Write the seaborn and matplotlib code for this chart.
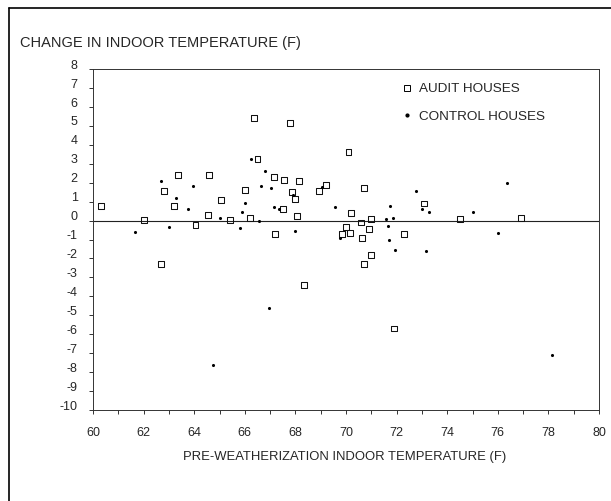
import matplotlib
matplotlib.use("Agg")
import matplotlib.pyplot as plt
import matplotlib.transforms as mtransforms
from matplotlib.lines import Line2D
import seaborn as sns
import pandas as pd

sns.set_style("white")
plt.rcParams['font.family'] = ['Liberation Sans', 'DejaVu Sans']

# audit houses (open squares)
audit_x = [60.3, 62.0, 62.8, 63.35, 63.2, 64.05, 62.7, 64.6, 64.55, 65.05, 65.4, 66.0, 66.2,
           67.15, 67.55, 68.15, 67.85, 68.0, 67.5, 68.05, 67.2, 68.35, 68.95, 69.2, 70.7,
           70.2, 69.85, 70.0, 70.15, 70.6, 71.0, 70.9, 70.65, 71.0, 70.7, 72.3, 73.1,
           74.5, 76.9, 71.9, 66.35, 67.8, 70.1, 66.5]
audit_y = [0.75, 0.05, 1.55, 2.4, 0.75, -0.25, -2.3, 2.4, 0.3, 1.1, 0.05, 1.6, 0.15,
           2.3, 2.15, 2.1, 1.5, 1.15, 0.6, 0.25, -0.7, -3.4, 1.55, 1.9, 1.7,
           0.4, -0.7, -0.35, -0.65, -0.1, 0.1, -0.45, -0.9, -1.8, -2.3, -0.7, 0.9,
           0.1, 0.15, -5.7, 5.4, 5.15, 3.6, 3.25]

# control houses (dots)
control_x = [61.65, 62.7, 63.3, 63.0, 63.75, 63.95, 65.0, 65.8, 65.9, 66.0, 66.55, 66.8,
             66.65, 67.05, 67.9, 67.15, 67.35, 68.0, 66.95, 69.05, 69.55, 69.75, 71.75,
             71.65, 71.7, 71.6, 71.85, 71.95, 72.75, 73.0, 73.3, 73.15, 75.0, 76.35, 76.0,
             64.75, 78.15, 66.25]
control_y = [-0.6, 2.1, 1.2, -0.35, 0.6, 1.8, 0.15, -0.4, 0.45, 0.95, 0.0, 2.6,
             1.8, 1.7, 1.35, 0.7, 0.6, -0.55, -4.6, 1.75, 0.7, -0.9, 0.75,
             -0.3, -1.0, 0.1, 0.15, -1.55, 1.55, 0.6, 0.45, -1.6, 0.45, 2.0, -0.65,
             -7.6, -7.1, 3.25]

x_ticks = list(range(60, 81, 2))
y_ticks = list(range(-10, 9))

audit = pd.DataFrame({'x': audit_x, 'y': audit_y})
control = pd.DataFrame({'x': control_x, 'y': control_y})

fig = plt.figure(figsize=(6.11, 5.01), dpi=100)
ax = fig.add_axes([93 / 611, 1 - 410 / 501, 506 / 611, 341 / 501])

sns.scatterplot(data=audit, x='x', y='y', ax=ax, marker='s', s=18,
                facecolor='none', edgecolor='#111111', linewidth=0.75)
sns.scatterplot(data=control, x='x', y='y', ax=ax, marker='o', s=5,
                color='black', edgecolor='black', linewidth=0)

ax.axhline(0, color='#222222', lw=0.8, zorder=0)

ax.set_xlim(60, 80)
ax.set_ylim(-10, 8)
ax.set_xticks(x_ticks)
ax.set_xticks(range(60, 81), minor=True)
ax.set_yticks(y_ticks)
ax.set_yticklabels([str(v) for v in y_ticks])
ax.tick_params(axis='both', which='both', direction='out', length=3, width=0.7,
               color='#333333', labelsize=9, bottom=True, left=True)
ax.tick_params(axis='x', pad=9)
ax.tick_params(axis='y', pad=8)
# y labels sit a little above their ticks in the original
shift = mtransforms.ScaledTranslation(0, 3.5 / 72, fig.dpi_scale_trans)
for lab in ax.get_yticklabels():
    lab.set_transform(lab.get_transform() + shift)
for sp in ax.spines.values():
    sp.set_color('#333333')
    sp.set_linewidth(0.7)
ax.set_xlabel('')
ax.set_ylabel('')

handles = [
    Line2D([], [], marker='s', ls='', mfc='none', mec='black', ms=4, mew=0.7),
    Line2D([], [], marker='o', ls='', color='black', ms=2),
]
ax.legend(handles, ['AUDIT HOUSES', 'CONTROL HOUSES'], loc='upper left',
          bbox_to_anchor=(0.585, 0.995), frameon=False, fontsize=9.7,
          handlelength=0.8, handletextpad=0.5, labelspacing=1.1)

fig.text(20 / 611, 1 - 43 / 501, 'CHANGE IN INDOOR TEMPERATURE (F)', fontsize=10.5,
         va='center', ha='left')
fig.text(345 / 611, 1 - 457 / 501, 'PRE-WEATHERIZATION INDOOR TEMPERATURE (F)',
         fontsize=9.4, va='center', ha='center')

# outer frame of the page
fig.add_artist(Line2D([9 / 611, 9 / 611], [0, 1 - 8 / 501], color='black', lw=1.2,
                      transform=fig.transFigure))
fig.add_artist(Line2D([9 / 611, 1], [1 - 8 / 501, 1 - 8 / 501], color='black', lw=1.2,
                      transform=fig.transFigure))

fig.savefig('out.png', dpi=100)
